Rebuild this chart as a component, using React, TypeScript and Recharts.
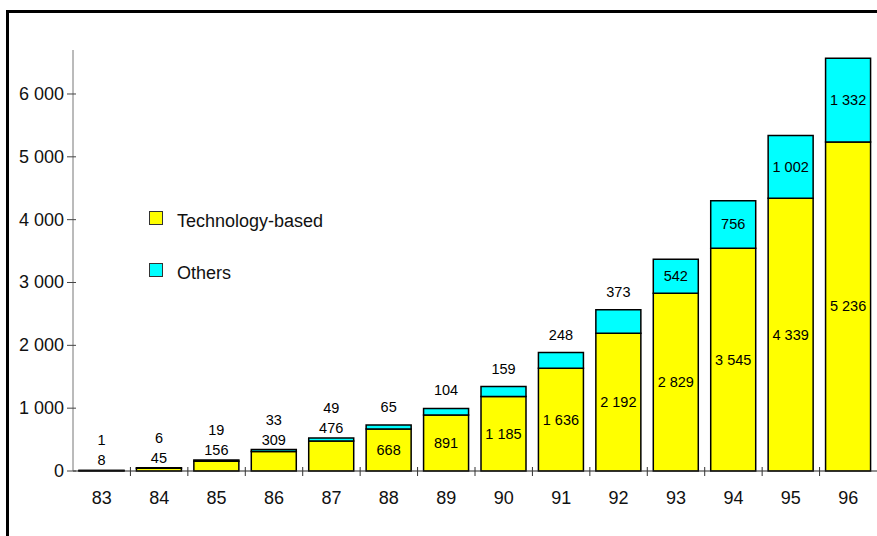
import { Bar, BarChart, LabelList, Legend, XAxis, YAxis } from "recharts"

const years = ["83", "84", "85", "86", "87", "88", "89", "90", "91", "92", "93", "94", "95", "96"]
const techBased = [8, 45, 156, 309, 476, 668, 891, 1185, 1636, 2192, 2829, 3545, 4339, 5236]
const others = [1, 6, 19, 33, 49, 65, 104, 159, 248, 373, 542, 756, 1002, 1332]
const yTicks = [0, 1000, 2000, 3000, 4000, 5000, 6000]

const data = years.map((year, i) => ({ year, tech: techBased[i], others: others[i] }))

const FONT = "'Liberation Sans', Arial, sans-serif"

// "1234" -> "1 234"
const fmt = (n: number) => String(n).replace(/\B(?=(\d{3})+(?!\d))/g, " ")

function TechLabel(props: any) {
  const { x, y, width, height, index } = props
  const v = techBased[index]
  const cx = x + width / 2
  if (height >= 32) {
    return (
      <text x={cx} y={y + height / 2} textAnchor="middle" dominantBaseline="central" fontSize={14.5} fill="#000" fontFamily={FONT}>
        {fmt(v)}
      </text>
    )
  }
  // small segment: put it above the whole stack
  const ratio = height / v
  const top = y - others[index] * ratio
  return (
    <text x={cx} y={top - 10} textAnchor="middle" dominantBaseline="central" fontSize={14.5} fill="#000" fontFamily={FONT}>
      {fmt(v)}
    </text>
  )
}

function OthersLabel(props: any) {
  const { x, y, width, height, index } = props
  const v = others[index]
  const cx = x + width / 2
  if (height >= 30) {
    return (
      <text x={cx} y={y + height / 2} textAnchor="middle" dominantBaseline="central" fontSize={14.5} fill="#000" fontFamily={FONT}>
        {fmt(v)}
      </text>
    )
  }
  const ratio = height / v
  const techH = techBased[index] * ratio
  const techSmall = techH < 32
  const cy = techSmall ? y - 10 - 20 : y - 18
  return (
    <text x={cx} y={cy} textAnchor="middle" dominantBaseline="central" fontSize={14.5} fill="#000" fontFamily={FONT}>
      {fmt(v)}
    </text>
  )
}

function YearTick(props: any) {
  const { x, y, payload, index, width, visibleTicksCount } = props
  const band = width && visibleTicksCount ? width / visibleTicksCount : 57.4
  return (
    <g>
      {index > 0 && <line x1={x - band / 2} x2={x - band / 2} y1={y - 4} y2={y + 5} stroke="#333" />}
      <text x={x} y={y + 27} textAnchor="middle" dominantBaseline="central" fontSize={18} fill="#111" fontFamily={FONT}>
        {payload.value}
      </text>
    </g>
  )
}

function ValueTick(props: any) {
  const { x, y, payload } = props
  return (
    <g>
      <line x1={x - 6} x2={x + 3} y1={y} y2={y} stroke="#444" />
      <text x={x - 9} y={y} textAnchor="end" dominantBaseline="central" fontSize={18} fill="#111" fontFamily={FONT}>
        {fmt(payload.value)}
      </text>
    </g>
  )
}

function LegendBox() {
  const items = [
    { label: "Technology-based", color: "#ffff00" },
    { label: "Others", color: "#00ffff" },
  ]
  return (
    <div style={{ fontFamily: FONT, fontSize: 18, color: "#111" }}>
      {items.map((it, i) => (
        <div key={it.label} style={{ position: "relative", height: 22, marginTop: i === 0 ? 0 : 30 }}>
          <div
            style={{
              position: "absolute",
              left: 0,
              top: 0,
              width: 12,
              height: 12,
              background: it.color,
              border: "1px solid #333",
            }}
          />
          <span style={{ position: "absolute", left: 28, top: -1, lineHeight: "22px", whiteSpace: "nowrap" }}>{it.label}</span>
        </div>
      ))}
    </div>
  )
}

export default function App() {
  return (
    <div style={{ position: "absolute", left: 0, top: 0, width: 877, height: 536, overflow: "hidden", background: "#fff" }}>
      <div
        style={{
          position: "absolute",
          left: 6,
          top: 10,
          width: 900,
          height: 600,
          borderLeft: "3px solid #000",
          borderTop: "3px solid #000",
        }}
      />
      <div style={{ position: "absolute", left: 0, top: 0 }}>
        <BarChart width={877} height={536} data={data} margin={{ top: 50, right: 0, bottom: 25, left: 0 }}>
          <XAxis
            dataKey="year"
            height={40}
            tickSize={0}
            tickMargin={0}
            axisLine={{ stroke: "#222" }}
            tick={<YearTick />}
            interval={0}
          />
          <YAxis
            width={73}
            domain={[0, 6700]}
            ticks={yTicks}
            tickSize={0}
            tickMargin={0}
            axisLine={{ stroke: "#777" }}
            tick={<ValueTick />}
          />
          <Legend
            layout="vertical"
            align="center"
            verticalAlign="middle"
            content={<LegendBox />}
            wrapperStyle={{ left: 149, top: 211, width: 250 }}
          />
          <Bar dataKey="tech" stackId="a" fill="#ffff00" stroke="#000" strokeWidth={1.5} barSize={45} isAnimationActive={false}>
            <LabelList dataKey="tech" content={<TechLabel />} />
          </Bar>
          <Bar dataKey="others" stackId="a" fill="#00ffff" stroke="#000" strokeWidth={1.5} barSize={45} isAnimationActive={false}>
            <LabelList dataKey="others" content={<OthersLabel />} />
          </Bar>
        </BarChart>
      </div>
    </div>
  )
}
